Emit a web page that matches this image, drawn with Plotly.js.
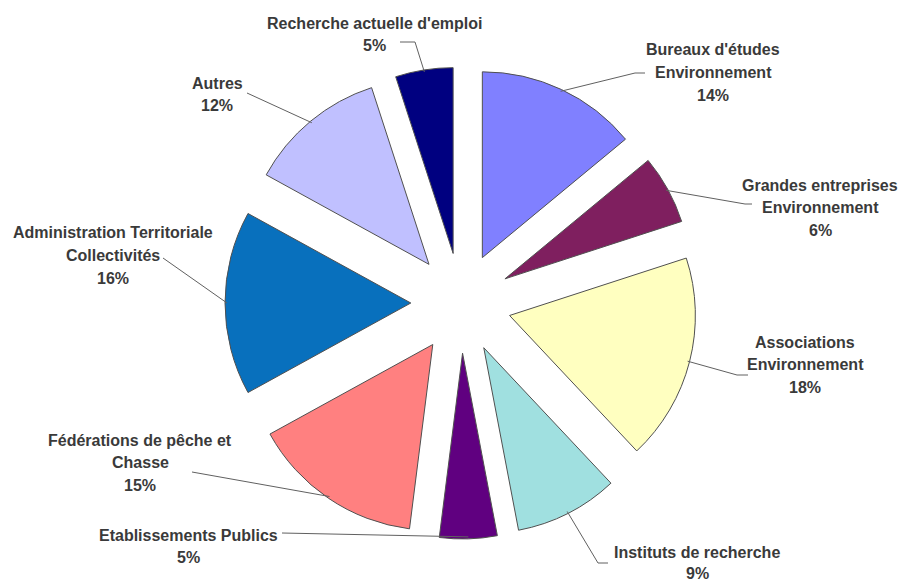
<!DOCTYPE html>
<html><head><meta charset="utf-8">
<script src="https://cdn.plot.ly/plotly-3.0.1.min.js"></script>
<style>html,body{margin:0;padding:0;background:#fff}</style>
</head><body><div id="chart" style="width:900px;height:583px"></div>
<script>
// ---- data ----
const categories = [
  "Bureaux d'études Environnement",
  "Grandes entreprises Environnement",
  "Associations Environnement",
  "Instituts de recherche",
  "Etablissements Publics",
  "Fédérations de pêche et Chasse",
  "Administration Territoriale Collectivités",
  "Autres",
  "Recherche actuelle d'emploi"
];
const labelLines = [
  ["Bureaux d'études", "Environnement"],
  ["Grandes entreprises", "Environnement"],
  ["Associations", "Environnement"],
  ["Instituts de recherche"],
  ["Etablissements Publics"],
  ["Fédérations de pêche et", "Chasse"],
  ["Administration Territoriale", "Collectivités"],
  ["Autres"],
  ["Recherche actuelle d'emploi"]
];
const shares = [14, 6, 18, 9, 5, 15, 16, 12, 5];
const colors = ["#8080FF", "#7F1F5F", "#FFFFC0", "#A0E0E0", "#600080",
                "#FF8080", "#0870BD", "#C0C0FF", "#000080"];

// ---- layout helpers (label placement, px) ----
const labelCenters = [[713, 50], [820, 185], [805, 342], [697, 552], [188, 535],
                      [140, 440], [113, 233], [217, 83], [374, 23]];
const leaderBends = [
  [[635, 73], [645, 73]],
  [[745, 204], [752, 204]],
  [[737, 375], [748, 375]],
  [[598, 563], [608, 563]],
  [[282, 533], [282, 533]],
  [[192, 472], [192, 472]],
  [[163, 258], [163, 258]],
  [[247, 93], [247, 93]],
  [[415, 42], [400, 42]]
];
const LINE_GAP = 22.5;

const W = 900, H = 583;
const dom = {x: [0.25, 0.7744], y: [0.0755, 0.885]};
const PULL = 0.27;

const boxW = W * (dom.x[1] - dom.x[0]), boxH = H * (dom.y[1] - dom.y[0]);
const r = Math.min(boxW, boxH) / (2 + 2 * PULL);
const cx = W * (dom.x[0] + dom.x[1]) / 2;
const cy = H * (1 - (dom.y[0] + dom.y[1]) / 2);
const total = shares.reduce((a, b) => a + b, 0);

const px = x => x / W, py = y => 1 - y / H;

const annotations = [];
const shapes = [];
let cum = 0;
shares.forEach((v, i) => {
  const th = 2 * Math.PI * (cum + v / 2) / total;
  cum += v;
  const rr = r * (1 + PULL) - 2;
  const ex = cx + rr * Math.sin(th), ey = cy - rr * Math.cos(th);
  const [b1, b2] = leaderBends[i];
  shapes.push({
    type: 'path', xref: 'paper', yref: 'paper',
    path: `M ${px(ex)} ${py(ey)} L ${px(b1[0])} ${py(b1[1])} L ${px(b2[0])} ${py(b2[1])}`,
    line: {color: '#606060', width: 1}
  });
  const lines = labelLines[i].concat([v + '%']);
  const [lx, ly] = labelCenters[i];
  const gap = (i === 3) ? 21 : LINE_GAP;
  lines.forEach((t, k) => {
    annotations.push({
      xref: 'paper', yref: 'paper', x: px(lx), y: py(ly + k * gap),
      xanchor: 'center', yanchor: 'middle', showarrow: false, text: t,
      font: {family: 'Liberation Sans, Arial, sans-serif', size: 16, color: '#3a3a3a', weight: 'bold'}
    });
  });
});

const trace = {
  type: 'pie',
  labels: categories,
  values: shares,
  sort: false,
  direction: 'clockwise',
  rotation: 0,
  pull: shares.map(() => PULL),
  marker: {colors: colors, line: {color: '#505050', width: 1}},
  textinfo: 'none',
  hoverinfo: 'none',
  domain: dom,
  showlegend: false
};

Plotly.newPlot('chart', [trace], {
  width: W, height: H,
  margin: {l: 0, r: 0, t: 0, b: 0},
  paper_bgcolor: '#ffffff',
  showlegend: false,
  annotations: annotations,
  shapes: shapes
}, {staticPlot: true});
</script>
</body></html>
